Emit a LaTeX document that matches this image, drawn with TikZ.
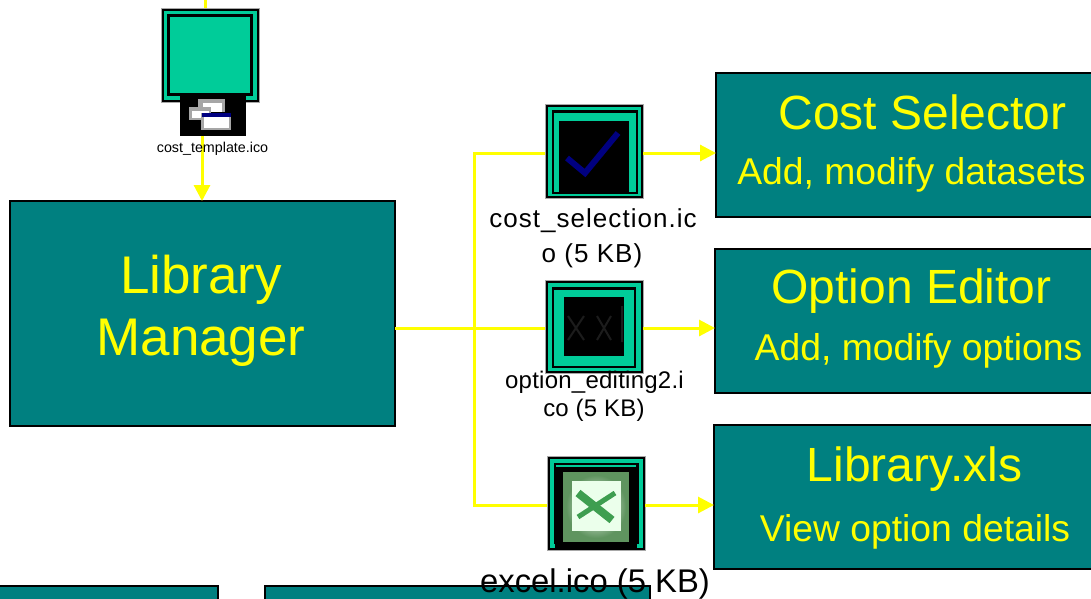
\documentclass[tikz,border=0pt]{standalone}
\usepackage{fontspec}
\setmainfont{Liberation Sans}
\usetikzlibrary{arrows.meta,calc}
\definecolor{boxteal}{HTML}{008080}
\definecolor{icongreen}{HTML}{00CC99}
\definecolor{linkyellow}{HTML}{FFFF00}
\definecolor{edgegray}{HTML}{A8A8A8}
\definecolor{iconnavy}{HTML}{000080}
\definecolor{xlgreen}{HTML}{3E9E50}
\definecolor{xlrim}{HTML}{5F945F}
\definecolor{faintx}{HTML}{1C1C1C}
\newcommand{\fsz}[1]{\fontsize{#1}{#1}\selectfont}
\newcommand{\spaced}[1]{\addfontfeature{LetterSpace=#1}}
\tikzset{
  every node/.style={inner sep=0pt,outer sep=0pt},
  tealbox/.style={fill=boxteal,draw=black,line width=2.5pt,anchor=north west},
  iconbase/.style={draw=edgegray,line width=.5pt,fill=black,anchor=north west,minimum width=98pt},
  link/.style={draw=linkyellow,line width=3pt},
  linkarrow/.style={link,-{Triangle[length=16pt,width=16pt,fill=linkyellow]}},
  bigtext/.style={text=linkyellow,anchor=center},
  smalltext/.style={text=black,anchor=center},
}
\begin{document}
\begin{tikzpicture}[x=1pt,y=-1pt]
\useasboundingbox (0,0) rectangle (1091,598);
\fill[white] (0,0) rectangle (1091,598);
% teal boxes
\node[tealbox,minimum width=385pt,minimum height=225pt] (lib) at (10,201) {};
\node[tealbox,minimum width=380pt,minimum height=144pt] (costbox) at (716,73) {};
\node[tealbox,minimum width=380pt,minimum height=144pt] (optbox) at (715,249) {};
\node[tealbox,minimum width=380pt,minimum height=144pt] (xlsbox) at (714,425) {};
\node[tealbox,minimum width=224pt,minimum height=40pt] (lowa) at (-6,586) {};
\node[tealbox,minimum width=385pt,minimum height=40pt] (lowb) at (265,586) {};
% icon 0
\node[iconbase,minimum height=94pt] (ic0) at (161,8) {};
\fill[icongreen] (163.5,10.5) rectangle (256.5,99.5);
\fill[black] (167,14) rectangle (253,96);
\fill[icongreen] (170,17) rectangle (250,93);
\node[fill=black,anchor=north west,minimum width=66pt,minimum height=43pt] (img0) at (180,93) {};
\fill[gray!70] (198,99) rectangle (225,112);
\fill[white] (203,103) rectangle (222,112);
\fill[gray!70] (189,107) rectangle (211,120);
\fill[white] (192,111) rectangle (209,118);
\fill[gray!70] (201,113) rectangle (231,130);
\fill[white] (204,117) rectangle (229,128);
\fill[iconnavy] (201.5,113) rectangle (231,117);
% icon 1
\node[iconbase,minimum height=94pt] (ic1) at (545,104) {};
\fill[icongreen] (547.5,106.5) rectangle (640.5,195.5);
\fill[black] (551.5,110) rectangle (638,194);
\fill[icongreen] (554,112.5) rectangle (635.5,191.5);
\fill[black] (559,121) rectangle (629,191.5);
\draw[color=iconnavy,line width=6pt] (567,158) -- (585,173) -- (618,133);
% icon 2
\node[iconbase,minimum height=93pt] (ic2) at (545,280) {};
\fill[icongreen] (547.5,282.5) rectangle (640.5,370.5);
\fill[black] (551.5,287) rectangle (636,368);
\fill[icongreen] (554,289.5) rectangle (634,366);
\fill[black] (564,297) rectangle (624,356);
\draw[color=faintx,line width=2pt] (568,316) -- (584,340) (584,316) -- (568,340) (597,316) -- (611,340) (611,316) -- (597,340) (622,306) -- (622,342);
% icon 3
\node[iconbase,minimum height=94pt] (ic3) at (547,456) {};
\fill[icongreen] (549.5,458.5) rectangle (642.5,547);
\fill[black] (553.5,463) rectangle (638.5,549);
\fill[icongreen] (556,465) rectangle (636,466.5);
\fill[icongreen] (549.5,544) rectangle (555,547.5);
\fill[icongreen] (637,544) rectangle (642.5,547.5);
\fill[xlrim] (563,472) rectangle (629,542);
\shade[inner color=white,outer color=xlrim] (566,475) rectangle (626,538);
\fill[white!92!green] (572,481) rectangle (621,531);
\draw[color=xlgreen,line width=8pt] (578,493) -- (612,520);
\draw[color=xlgreen,line width=5pt] (615,493) -- (578,517);
% connectors
\coordinate (trunk) at (474,328);
\coordinate (topin) at ([xshift=-4.5pt]ic0.north |- 0,-2);
\coordinate (y1) at (0,153);
\coordinate (y3) at (0,505);
\draw[link] (topin) -- ([xshift=-4.5pt]ic0.north);
\draw[linkarrow] ([xshift=-11pt]img0.south) -- ([xshift=-11pt]img0.south |- lib.north);
\draw[link] (lib.east |- trunk) -- (ic2.west |- trunk);
\draw[linkarrow] (ic2.east |- trunk) -- (optbox.west |- trunk);
\draw[link] (ic1.west |- y1) -| (trunk);
\draw[link] (ic3.west |- y3) -| (trunk);
\draw[linkarrow] (ic1.east |- y1) -- (costbox.west |- y1);
\draw[linkarrow] (ic3.east |- y3) -- (xlsbox.west |- y3);
% texts
\node[bigtext,font=\fsz{53}] (t1) at (201,280) {Library};
\node[bigtext,font=\fsz{53}] (t2) at (201,343) {Manager};
\node[bigtext,font=\fsz{48}] (t3) at (922.5,112) {Cost Selector};
\node[bigtext,font=\fsz{37.3}] (t4) at (911.5,175) {Add, modify datasets};
\node[bigtext,font=\fsz{48}] (t5) at (911.5,291) {Option Editor};
\node[bigtext,font=\fsz{37.3}] (t6) at (918.5,351) {Add, modify options};
\node[bigtext,font=\fsz{48}] (t7) at (914.5,469) {Library.xls};
\node[bigtext,font=\fsz{37.3}] (t8) at (915,532) {View option details};
\node[smalltext,font=\fsz{14.3}] (s0) at (212.5,149) {cost\_template.ico};
\node[smalltext,font=\fsz{26}\spaced{4}] (s1) at (593,221) {cost\_selection.ic};
\node[smalltext,font=\fsz{26}\spaced{4}] (s2) at (592,256) {o (5 KB)};
\node[smalltext,font=\fsz{24}\spaced{1}] (s3) at (594.5,382.5) {option\_editing2.i};
\node[smalltext,font=\fsz{24}\spaced{1}] (s4) at (594,410.5) {co (5 KB)};
\node[smalltext,font=\fsz{32.8}] (s5) at (595,584) {excel.ico (5 KB)};
\end{tikzpicture}
\end{document}
